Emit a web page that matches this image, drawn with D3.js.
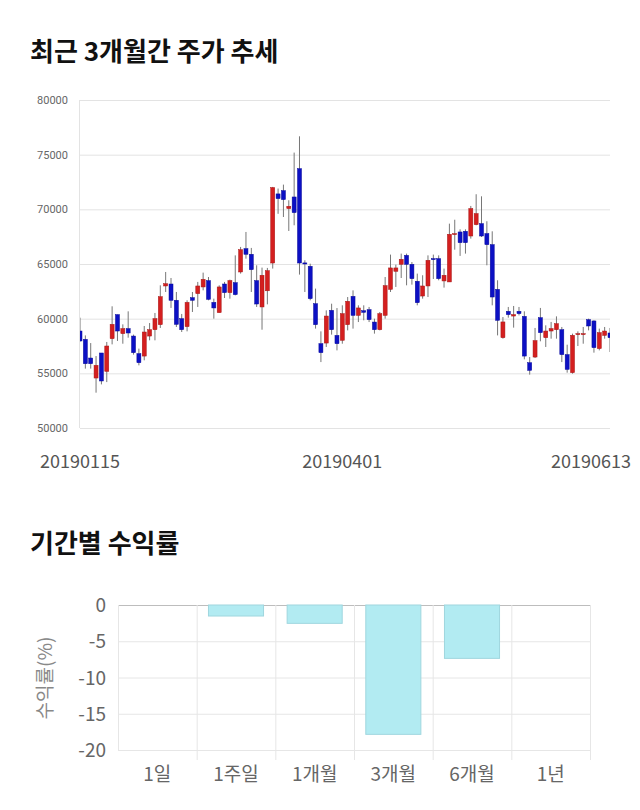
<!DOCTYPE html>
<html>
<head>
<meta charset="utf-8">
<script src="https://cdn.jsdelivr.net/npm/d3@7"></script>
<style>
  html, body { margin: 0; padding: 0; background: #fff; }
  svg { display: block; font-family: "Noto Sans CJK KR", "Noto Sans", sans-serif; }
</style>
</head>
<body>
<svg id="chart" width="640" height="810"></svg>
<script>
// ---- Candlestick data (Jan 15 – Jun 13, 2019) ----
const opens = [58870,58110,56400,54570,56860,55180,58170,60370,58630,59090,58410,56800,56580,58410,58990,59450,62990,63170,61680,60000,
  59270,61920,62290,62900,63480,61490,60550,63170,62380,63290,64270,66400,65890,63480,61070,62550,65090,71410,71710,70070,
  71130,73720,65100,64790,61370,57710,57770,60760,58470,58020,59450,62040,60300,60730,60820,59690,58990,60300,62680,64330,
  64970,65790,64970,63420,62070,62990,65490,65490,63450,63360,67720,67930,67990,67560,68600,68690,67780,66770,62680,58260,
  60670,60240,60670,60210,55970,56490,60090,58260,58870,58990,58990,56710,55060,58540,58630,59910,59790,57260,58470,58690];
const highs = [60090,58470,57770,56580,56860,57870,61130,60370,59480,60670,58540,57260,59330,59600,60520,63050,64270,63720,62440,60430,
  61680,62440,63360,64210,63810,61830,63050,63360,63570,65790,66560,67930,66470,64880,64670,64640,72050,71900,72260,70830,
  75190,76680,65340,65030,62750,58840,60760,61370,60970,61220,61980,62590,61220,61220,61070,60000,60610,63810,65860,64940,
  65950,65950,65180,64120,63970,65790,65860,65790,64580,68690,69050,68170,68170,70310,71380,71190,68910,67990,63510,60150,
  61070,61160,61070,60670,56490,59150,60980,59390,59700,60210,59240,57620,58630,58840,59240,60000,59850,59090,59240,59150];
const lows = [57900,55430,55430,53230,53990,54200,57650,57960,57710,58260,56710,55730,56190,58020,58020,59150,62440,60980,59240,58780,
  58840,60610,61070,62590,61680,60000,60550,61890,61830,62130,64120,65490,62440,61070,58990,61310,64580,69590,69300,68020,
  68540,64030,62440,61680,59090,56030,57410,58540,57100,57710,58930,59090,59690,59850,59690,58630,58930,60000,62440,62900,
  63720,63050,63110,61220,61830,61980,63630,63510,62840,63360,66310,65740,65950,67320,68540,67470,64880,61220,58470,58170,
  60090,59180,60300,56280,54880,56400,57930,57410,58170,58170,56030,55060,54970,57500,57710,58930,56890,57100,58170,56950];
const closes = [57960,55880,55880,55730,54300,57500,59480,58870,59090,58690,56890,55970,58780,58990,60000,62010,63200,61680,59480,58990,
  61490,61680,62990,63600,61770,60980,62900,62380,63480,62200,66310,65890,64480,61340,63970,64390,71990,70980,70890,70280,
  69700,65090,65000,61830,59450,56890,60240,58990,57710,60460,61590,60300,60980,60580,59910,58990,60460,63020,64640,64640,
  65430,64970,63660,61460,62990,65340,65430,63660,63970,67720,67780,66950,66950,70070,69610,67560,66770,61980,59850,59700,
  60370,60370,60460,56580,55270,57990,58720,58870,59090,59540,56710,55360,58480,58630,58630,59330,57350,58720,58870,58260];
const priceTicks = [50000, 55000, 60000, 65000, 70000, 75000, 80000];
const dateLabels = ["20190115", "20190401", "20190613"];
const dateLabelIndex = [0, 49, 99];

// ---- Period returns ----
const periods = ["1일", "1주일", "1개월", "3개월", "6개월", "1년"];
const returns = [0, -1.52, -2.53, -17.84, -7.36, 0];
const returnTicks = [0, -5, -10, -15, -20];

const svg = d3.select("#chart");

// ===== Title 1 =====
svg.append("text").attr("x", 30).attr("y", 61)
  .attr("font-size", 26).attr("font-weight", "bold").attr("fill", "#111")
  .text("최근 3개월간 주가 추세");

// ===== Candlestick chart =====
const cx0 = 80, cx1 = 610, cy0 = 100, cy1 = 428;
const x = d3.scaleLinear().domain([0, opens.length - 1]).range([cx0, cx1]);
const y = d3.scaleLinear().domain([50000, 80000]).range([cy1, cy0]);

const g1 = svg.append("g");
g1.selectAll("line.hgrid").data(priceTicks).join("line")
  .attr("x1", cx0).attr("x2", cx1)
  .attr("y1", d => y(d) + 0.5).attr("y2", d => y(d) + 0.5)
  .attr("stroke", "#e3e3e3").attr("stroke-width", 1);
g1.append("line").attr("x1", cx0 - 0.5).attr("x2", cx0 - 0.5).attr("y1", cy0).attr("y2", cy1)
  .attr("stroke", "#e3e3e3");
g1.selectAll("text.ytick").data(priceTicks).join("text")
  .attr("x", 68).attr("y", d => y(d) + 4)
  .attr("text-anchor", "end").attr("font-size", 11).attr("fill", "#666")
  .attr("font-family", "Roboto, 'Noto Sans', sans-serif")
  .text(d => d);

svg.append("clipPath").attr("id", "clipc").append("rect")
  .attr("x", cx0).attr("y", cy0 - 10).attr("width", cx1 - cx0).attr("height", cy1 - cy0 + 20);

const candles = opens.map((o, i) => ({ i, o, h: highs[i], l: lows[i], c: closes[i] }));
const cg = svg.append("g").attr("clip-path", "url(#clipc)");
const bw = 4;
cg.selectAll("line.wick").data(candles).join("line")
  .attr("x1", d => x(d.i)).attr("x2", d => x(d.i))
  .attr("y1", d => y(d.h)).attr("y2", d => y(d.l))
  .attr("stroke", "#777").attr("stroke-width", 1);
cg.selectAll("rect.body").data(candles).join("rect")
  .attr("x", d => x(d.i) - bw / 2)
  .attr("y", d => y(Math.max(d.o, d.c)))
  .attr("width", bw)
  .attr("height", d => Math.max(1, Math.abs(y(d.o) - y(d.c))))
  .attr("fill", d => d.c >= d.o ? "#d41f1f" : "#0c10c4")
  .attr("stroke", d => d.c >= d.o ? "#a81616" : "#08099a")
  .attr("stroke-width", 0.5);

dateLabelIndex.forEach((idx, k) => {
  const px = x(idx);
  const last = k === dateLabelIndex.length - 1;
  svg.append("text")
    .attr("x", last ? 631 : px)
    .attr("y", 468)
    .attr("text-anchor", last ? "end" : "middle")
    .attr("font-size", 18).attr("fill", "#555")
    .text(dateLabels[k]);
});

// ===== Title 2 =====
svg.append("text").attr("x", 30).attr("y", 553)
  .attr("font-size", 26).attr("font-weight", "bold").attr("fill", "#111")
  .text("기간별 수익률");

// ===== Returns bar chart =====
const bx0 = 118, bx1 = 590, by0 = 605, by1 = 750;
const xb = d3.scaleBand().domain(periods).range([bx0, bx1]).padding(0);
const yb = d3.scaleLinear().domain([-20, 0]).range([by1, by0]);
const g2 = svg.append("g");

g2.selectAll("line.bh").data(returnTicks).join("line")
  .attr("x1", bx0).attr("x2", bx1)
  .attr("y1", d => yb(d) + 0.5).attr("y2", d => yb(d) + 0.5)
  .attr("stroke", d => d === 0 ? "#bdbdbd" : "#e6e6e6");
const bounds = periods.map(p => xb(p)).concat([bx1]);
g2.selectAll("line.bv").data(bounds).join("line")
  .attr("x1", d => d + 0.5).attr("x2", d => d + 0.5)
  .attr("y1", by0).attr("y2", (d, i) => i === 0 ? by1 : by1 + 10)
  .attr("stroke", "#e6e6e6");

const barW = xb.bandwidth() * 0.7;
g2.selectAll("rect.bar").data(periods.map((p, i) => ({ p, v: returns[i] })).filter(d => d.v !== 0)).join("rect")
  .attr("x", d => xb(d.p) + (xb.bandwidth() - barW) / 2)
  .attr("y", d => yb(0))
  .attr("width", barW)
  .attr("height", d => yb(d.v) - yb(0))
  .attr("fill", "#b2ebf2").attr("stroke", "#9fd6de").attr("stroke-width", 1);

g2.selectAll("text.by").data(returnTicks).join("text")
  .attr("x", 106).attr("y", d => yb(d) + 7)
  .attr("text-anchor", "end").attr("font-size", 19).attr("fill", "#666")
  .text(d => d);
g2.selectAll("text.bx").data(periods).join("text")
  .attr("x", d => xb(d) + xb.bandwidth() / 2).attr("y", 781)
  .attr("text-anchor", "middle").attr("font-size", 19).attr("fill", "#666")
  .text(d => d);
svg.append("text")
  .attr("transform", "translate(52,678) rotate(-90)")
  .attr("text-anchor", "middle").attr("font-size", 19).attr("fill", "#888")
  .text("수익률(%)");
</script>
</body>
</html>
